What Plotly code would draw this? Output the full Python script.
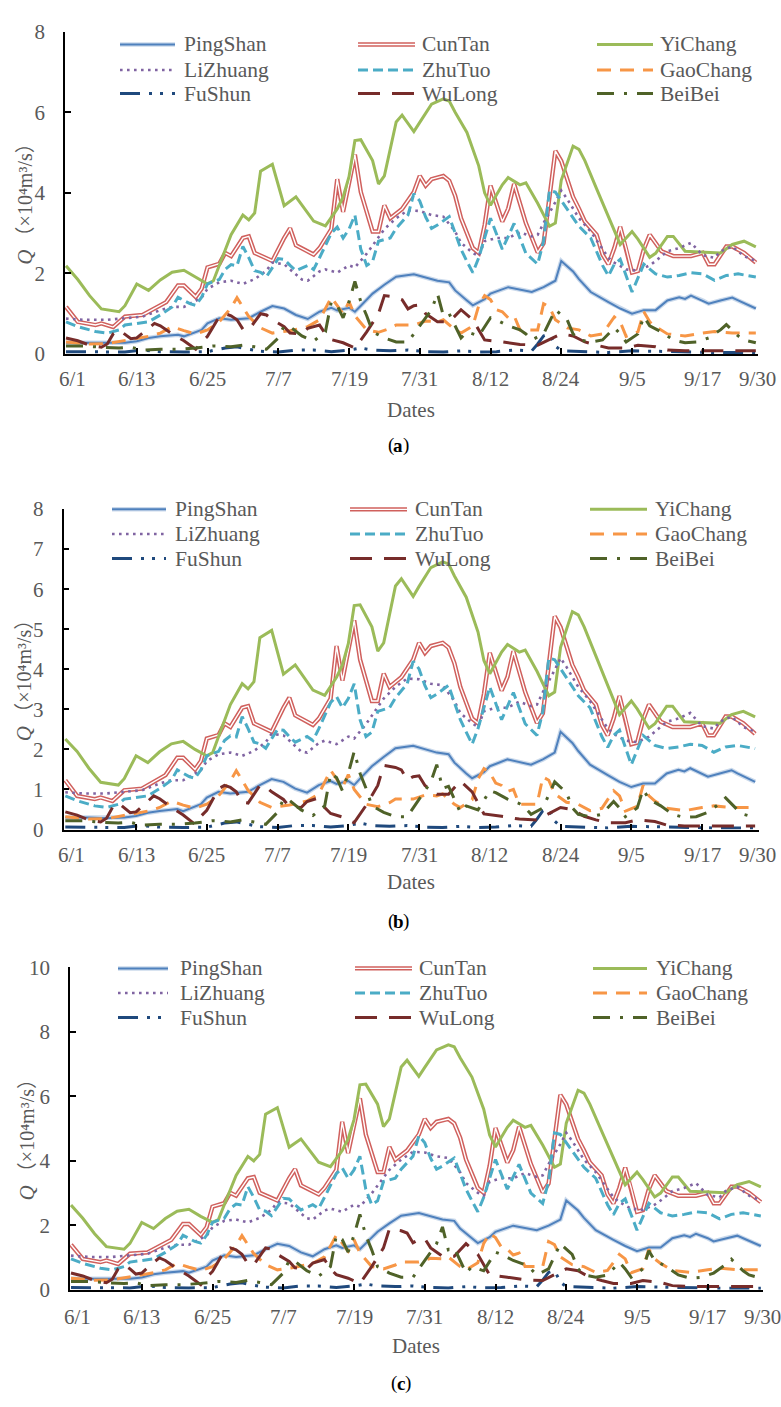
import plotly.graph_objects as go

W, H = 781, 1407
FONT = "Liberation Serif, Times New Roman, serif"
CJK_FONT = "Liberation Serif, Noto Sans CJK SC, serif"
GREY = "#595959"

# ---------------- categories / tick labels ----------------
TICK_DAYS = [0, 12, 24, 36, 48, 60, 72, 84, 96, 108, 117]
TICK_LABELS = ["6/1", "6/13", "6/25", "7/7", "7/19", "7/31", "8/12", "8/24", "9/5", "9/17", "9/30"]
SERIES = ["PingShan", "CunTan", "YiChang", "LiZhuang", "ZhuTuo",
          "GaoChang", "FuShun", "WuLong", "BeiBei"]

# ---------------- data: day offset from 6/1 and discharge (10^4 m3/s) ----------------
DAYS_PINGSHAN = [0,4,7,10,12,14,16,19,20,23,24,26,28,31,33,35,37,39,41,43,45,46,48,49,50,52,54,56,59,61,63,65,66,68,69,71,72,75,77,79,81,83,84,86,87,89,92,94,96,98,100,102,104,105,106,108,109,111,113,114,117]
A_PINGSHAN = [0.28,0.28,0.27,0.28,0.32,0.4,0.44,0.48,0.44,0.6,0.76,0.89,0.85,0.89,1.05,1.19,1.13,0.97,0.87,1.05,1.15,1.08,1.15,1.05,1.2,1.5,1.72,1.92,1.98,1.9,1.82,1.78,1.58,1.33,1.21,1.36,1.5,1.66,1.6,1.54,1.66,1.82,2.31,2.05,1.86,1.54,1.29,1.13,1.0,1.09,1.09,1.33,1.41,1.37,1.45,1.33,1.25,1.33,1.4,1.33,1.13]
B_PINGSHAN = [0.3,0.3,0.28,0.3,0.34,0.42,0.46,0.51,0.46,0.63,0.8,0.94,0.9,0.94,1.11,1.26,1.19,1.02,0.92,1.11,1.21,1.14,1.21,1.11,1.27,1.58,1.81,2.03,2.09,2.0,1.92,1.88,1.67,1.4,1.28,1.43,1.58,1.75,1.69,1.62,1.75,1.92,2.44,2.16,1.96,1.62,1.36,1.19,1.06,1.15,1.15,1.4,1.49,1.45,1.53,1.4,1.32,1.4,1.48,1.4,1.19]
C_PINGSHAN = [0.34,0.34,0.32,0.34,0.38,0.48,0.53,0.58,0.53,0.72,0.91,1.07,1.02,1.07,1.26,1.43,1.36,1.16,1.04,1.26,1.38,1.3,1.38,1.26,1.44,1.8,2.06,2.3,2.38,2.28,2.18,2.14,1.9,1.6,1.45,1.63,1.8,1.99,1.92,1.85,1.99,2.18,2.77,2.46,2.23,1.85,1.55,1.36,1.2,1.31,1.31,1.6,1.69,1.64,1.74,1.6,1.5,1.6,1.68,1.6,1.36]

DAYS_CUNTAN = [0,2,5,6,8,10,13,15,17,19,20,22,23,24,26,27,28,30,31,32,35,37,38,39,41,42,43,45,46,47,49,50,52,53,54,55,57,59,60,61,62,64,65,66,67,69,70,71,72,74,75,76,78,80,81,83,84,86,87,88,90,91,92,93,94,95,96,97,98,99,101,103,106,108,109,110,112,113,115,117]
A_CUNTAN = [1.17,0.8,0.72,0.76,0.67,0.93,0.97,1.13,1.29,1.7,1.7,1.42,1.62,2.15,2.24,2.51,2.43,2.88,2.92,2.51,2.31,2.88,3.12,2.7,2.55,2.47,2.63,3.1,4.34,3.53,4.95,4.02,3.04,3.04,3.69,3.37,3.6,4.02,4.42,4.18,4.34,4.42,4.3,3.93,3.37,2.63,2.51,3.2,4.18,3.29,3.61,4.22,3.25,2.52,2.75,5.04,4.79,3.9,3.61,3.29,2.96,2.47,2.23,2.63,3.16,2.63,2.02,2.06,2.6,2.96,2.55,2.43,2.43,2.51,2.23,2.23,2.67,2.67,2.51,2.27]
B_CUNTAN = [1.23,0.84,0.76,0.8,0.71,0.98,1.02,1.19,1.36,1.79,1.79,1.5,1.71,2.27,2.36,2.65,2.56,3.04,3.08,2.65,2.44,3.04,3.29,2.85,2.69,2.61,2.77,3.27,4.58,3.72,5.22,4.24,3.21,3.21,3.89,3.56,3.8,4.24,4.66,4.41,4.58,4.66,4.54,4.15,3.56,2.77,2.65,3.38,4.41,3.47,3.81,4.45,3.43,2.66,2.9,5.32,5.05,4.11,3.81,3.47,3.12,2.61,2.35,2.77,3.33,2.77,2.13,2.17,2.74,3.12,2.69,2.56,2.56,2.65,2.35,2.35,2.82,2.82,2.65,2.39]
C_CUNTAN = [1.4,0.96,0.86,0.91,0.8,1.12,1.16,1.36,1.55,2.04,2.04,1.7,1.94,2.58,2.69,3.01,2.92,3.46,3.5,3.01,2.77,3.46,3.74,3.24,3.06,2.96,3.16,3.72,5.21,4.24,5.94,4.82,3.65,3.65,4.43,4.04,4.32,4.82,5.3,5.02,5.21,5.3,5.16,4.72,4.04,3.16,3.01,3.84,5.02,3.95,4.33,5.06,3.9,3.02,3.3,6.05,5.75,4.68,4.33,3.95,3.55,2.96,2.68,3.16,3.79,3.16,2.42,2.47,3.12,3.55,3.06,2.92,2.92,3.01,2.68,2.68,3.2,3.2,3.01,2.72]

DAYS_YICHANG = [0,2,4,6,9,10,12,14,16,18,20,22,24,25,26,28,30,31,32,33,35,36,37,39,40,42,44,46,47,48,49,50,52,53,54,56,57,59,60,62,64,65,66,68,70,71,72,74,75,77,78,80,82,83,84,86,87,88,90,92,94,96,97,99,100,102,103,105,111,113,115,117]
A_YICHANG = [2.19,1.85,1.45,1.12,1.05,1.2,1.74,1.58,1.84,2.03,2.08,1.9,1.74,1.82,2.2,2.96,3.45,3.33,3.5,4.54,4.71,4.2,3.68,3.9,3.7,3.3,3.18,3.6,3.9,4.4,5.3,5.32,4.8,4.22,4.42,5.76,5.93,5.52,5.75,6.2,6.33,6.28,6.0,5.5,4.67,4.0,3.69,4.2,4.38,4.2,4.25,3.74,3.17,3.25,4.31,5.16,5.08,4.8,4.1,3.4,2.72,3.04,2.85,2.4,2.5,2.92,2.92,2.55,2.51,2.72,2.8,2.66]
B_YICHANG = [2.26,1.95,1.53,1.18,1.11,1.27,1.84,1.67,1.94,2.14,2.2,2.0,1.84,1.92,2.32,3.12,3.64,3.51,3.69,4.79,4.97,4.43,3.88,4.11,3.9,3.48,3.35,3.8,4.11,4.64,5.59,5.61,5.06,4.45,4.66,6.08,6.26,5.82,6.07,6.54,6.68,6.63,6.33,5.8,4.93,4.22,3.89,4.43,4.62,4.43,4.48,3.95,3.34,3.43,4.55,5.44,5.36,5.06,4.33,3.59,2.87,3.21,3.01,2.53,2.64,3.08,3.08,2.69,2.65,2.87,2.95,2.81]
C_YICHANG = [2.63,2.22,1.74,1.34,1.26,1.44,2.09,1.9,2.21,2.44,2.5,2.28,2.09,2.18,2.64,3.55,4.14,4.0,4.2,5.45,5.65,5.04,4.42,4.68,4.44,3.96,3.82,4.32,4.68,5.28,6.36,6.38,5.76,5.06,5.3,6.91,7.12,6.62,6.9,7.44,7.6,7.54,7.2,6.6,5.6,4.8,4.43,5.04,5.26,5.04,5.1,4.49,3.8,3.9,5.17,6.19,6.1,5.76,4.92,4.08,3.26,3.65,3.42,2.88,3.0,3.5,3.5,3.06,3.01,3.26,3.36,3.19]

DAYS_LIZHUANG = [0,3,7,10,13,16,18,20,23,24,26,28,30,32,34,35,37,38,40,41,43,44,46,48,49,51,53,54,56,58,60,62,64,66,67,69,70,71,73,75,77,79,80,81,83,84,85,87,89,91,92,93,95,97,99,100,102,104,106,108,110,111,113,115,117]
A_LIZHUANG = [0.88,0.85,0.85,0.89,0.93,1.09,1.17,1.17,1.4,1.62,1.78,1.82,1.74,1.86,2.07,2.27,2.23,2.1,1.85,1.82,2.05,2.1,2.02,2.2,2.15,2.49,2.88,3.1,3.37,3.57,3.55,3.45,3.41,3.04,2.76,2.51,2.43,2.8,2.88,2.88,3.02,2.92,2.96,3.25,3.77,4.06,3.85,3.37,3.04,2.6,2.39,2.27,2.1,2.07,2.2,2.31,2.55,2.63,2.76,2.45,2.39,2.55,2.67,2.43,2.31]
B_LIZHUANG = [0.93,0.9,0.9,0.94,0.98,1.15,1.23,1.23,1.48,1.71,1.88,1.92,1.84,1.96,2.18,2.39,2.35,2.22,1.95,1.92,2.16,2.22,2.13,2.32,2.27,2.63,3.04,3.27,3.56,3.77,3.75,3.64,3.6,3.21,2.91,2.65,2.56,2.95,3.04,3.04,3.19,3.08,3.12,3.43,3.98,4.28,4.06,3.56,3.21,2.74,2.52,2.39,2.22,2.18,2.32,2.44,2.69,2.77,2.91,2.58,2.52,2.69,2.82,2.56,2.44]
C_LIZHUANG = [1.06,1.02,1.02,1.07,1.12,1.31,1.4,1.4,1.68,1.94,2.14,2.18,2.09,2.23,2.48,2.72,2.68,2.52,2.22,2.18,2.46,2.52,2.42,2.64,2.58,2.99,3.46,3.72,4.04,4.28,4.26,4.14,4.09,3.65,3.31,3.01,2.92,3.36,3.46,3.46,3.62,3.5,3.55,3.9,4.52,4.87,4.62,4.04,3.65,3.12,2.87,2.72,2.52,2.48,2.64,2.77,3.06,3.16,3.31,2.94,2.87,3.06,3.2,2.92,2.77]

DAYS_ZHUTUO = [0,2,5,7,9,10,12,14,16,18,19,21,22,23,24,26,27,28,29,30,31,32,33,34,36,37,38,39,41,42,43,45,46,47,48,49,50,51,52,53,55,56,58,59,60,61,62,63,65,66,67,68,69,70,71,72,74,75,76,78,80,81,82,83,85,86,87,89,91,92,93,94,96,98,100,102,104,106,108,110,112,114,117]
A_ZHUTUO = [0.8,0.68,0.56,0.52,0.6,0.72,0.76,0.8,0.97,1.17,1.41,1.25,1.21,1.41,1.74,1.85,2.1,2.22,2.19,2.67,2.39,2.07,2.03,1.92,2.37,2.35,2.2,2.07,2.2,2.1,2.39,3.0,3.15,2.88,3.1,3.45,2.6,2.2,2.3,2.8,2.88,3.12,3.45,3.98,3.8,3.4,3.12,3.2,3.41,3.0,2.6,2.3,2.02,2.39,2.9,3.37,2.6,2.9,3.24,2.5,2.23,2.8,4.06,4.02,3.6,3.37,3.17,2.88,2.2,1.94,2.23,2.35,1.54,2.23,1.99,1.91,1.95,2.02,1.99,1.83,1.95,1.99,1.91]
B_ZHUTUO = [0.84,0.72,0.59,0.55,0.63,0.76,0.8,0.84,1.02,1.23,1.49,1.32,1.28,1.49,1.84,1.95,2.22,2.34,2.31,2.82,2.52,2.18,2.14,2.03,2.5,2.48,2.32,2.18,2.32,2.22,2.52,3.17,3.32,3.04,3.27,3.64,2.74,2.32,2.43,2.95,3.04,3.29,3.64,4.2,4.01,3.59,3.29,3.38,3.6,3.17,2.74,2.43,2.13,2.52,3.06,3.56,2.74,3.06,3.42,2.64,2.35,2.95,4.28,4.24,3.8,3.56,3.34,3.04,2.32,2.05,2.35,2.48,1.62,2.35,2.1,2.02,2.06,2.13,2.1,1.93,2.06,2.1,2.02]
C_ZHUTUO = [0.96,0.82,0.67,0.62,0.72,0.86,0.91,0.96,1.16,1.4,1.69,1.5,1.45,1.69,2.09,2.22,2.52,2.66,2.63,3.2,2.87,2.48,2.44,2.3,2.84,2.82,2.64,2.48,2.64,2.52,2.87,3.6,3.78,3.46,3.72,4.14,3.12,2.64,2.76,3.36,3.46,3.74,4.14,4.78,4.56,4.08,3.74,3.84,4.09,3.6,3.12,2.76,2.42,2.87,3.48,4.04,3.12,3.48,3.89,3.0,2.68,3.36,4.87,4.82,4.32,4.04,3.8,3.46,2.64,2.33,2.68,2.82,1.85,2.68,2.39,2.29,2.34,2.42,2.39,2.2,2.34,2.39,2.29]

DAYS_GAOCHANG = [0,2,4,7,10,12,14,16,18,20,22,24,26,28,29,31,33,35,38,41,43,45,46,47,48,49,51,53,55,56,59,61,63,64,66,67,69,70,71,72,73,74,75,76,77,80,81,82,83,85,87,89,91,93,94,95,97,98,99,100,102,105,108,110,113,117]
A_GAOCHANG = [0.3,0.28,0.25,0.26,0.33,0.38,0.44,0.52,0.68,0.58,0.5,0.6,0.8,1.15,1.4,0.93,0.65,0.52,0.58,0.68,0.85,1.41,1.2,1.0,1.3,0.95,0.6,0.54,0.64,0.72,0.72,0.82,0.8,0.85,0.6,0.52,0.7,1.2,1.45,1.35,1.1,1.05,0.9,0.95,0.6,0.6,1.25,1.17,0.85,0.65,0.6,0.45,0.5,0.92,0.8,0.44,0.55,1.05,0.8,0.68,0.5,0.45,0.52,0.56,0.52,0.52]
B_GAOCHANG = [0.32,0.29,0.26,0.27,0.35,0.4,0.46,0.55,0.71,0.61,0.53,0.63,0.84,1.21,1.47,0.98,0.68,0.55,0.61,0.71,0.89,1.48,1.26,1.05,1.37,1.0,0.63,0.57,0.67,0.76,0.76,0.86,0.84,0.89,0.63,0.55,0.74,1.26,1.52,1.42,1.16,1.1,0.95,1.0,0.63,0.63,1.31,1.23,0.89,0.68,0.63,0.47,0.53,0.97,0.84,0.46,0.58,1.1,0.84,0.71,0.53,0.47,0.55,0.59,0.55,0.55]
C_GAOCHANG = [0.36,0.34,0.3,0.31,0.4,0.46,0.53,0.62,0.82,0.7,0.6,0.72,0.96,1.38,1.68,1.12,0.78,0.62,0.7,0.82,1.02,1.69,1.44,1.2,1.56,1.14,0.72,0.65,0.77,0.86,0.86,0.98,0.96,1.02,0.72,0.62,0.84,1.44,1.74,1.62,1.32,1.26,1.08,1.14,0.72,0.72,1.5,1.4,1.02,0.78,0.72,0.54,0.6,1.1,0.96,0.53,0.66,1.26,0.96,0.82,0.6,0.54,0.62,0.67,0.62,0.62]

DAYS_FUSHUN = [0,5,10,13,16,20,24,27,29,31,33,36,39,42,45,48,50,52,55,58,61,64,67,70,73,76,79,80,81,82,83,84,88,92,96,100,104,110,117]
A_FUSHUN = [0.06,0.05,0.05,0.1,0.06,0.05,0.06,0.15,0.18,0.12,0.07,0.05,0.1,0.1,0.06,0.1,0.15,0.1,0.08,0.1,0.06,0.05,0.08,0.05,0.06,0.1,0.08,0.25,0.45,0.5,0.2,0.08,0.06,0.04,0.08,0.07,0.05,0.04,0.04]
B_FUSHUN = [0.06,0.05,0.05,0.1,0.06,0.05,0.06,0.16,0.19,0.13,0.07,0.05,0.1,0.1,0.06,0.1,0.16,0.1,0.08,0.1,0.06,0.05,0.08,0.05,0.06,0.1,0.08,0.26,0.47,0.52,0.21,0.08,0.06,0.04,0.08,0.07,0.05,0.04,0.04]
C_FUSHUN = [0.07,0.06,0.06,0.12,0.07,0.06,0.07,0.18,0.22,0.14,0.08,0.06,0.12,0.12,0.07,0.12,0.18,0.12,0.1,0.12,0.07,0.06,0.1,0.06,0.07,0.12,0.1,0.3,0.54,0.6,0.24,0.1,0.07,0.05,0.1,0.08,0.06,0.05,0.05]

DAYS_WULONG = [0,2,4,6,7,8,9,10,11,12,14,15,16,18,20,22,23,24,26,27,28,29,30,31,33,34,35,37,38,40,41,43,44,45,47,49,51,53,54,56,57,58,59,60,61,63,65,67,69,70,71,74,77,80,82,84,86,88,90,92,95,97,100,102,105,117]
A_WULONG = [0.4,0.33,0.22,0.17,0.25,0.5,0.6,0.5,0.38,0.4,0.65,0.76,0.7,0.5,0.33,0.12,0.3,0.44,0.93,1.0,0.95,0.85,0.62,0.6,1.0,0.97,0.85,0.68,0.52,0.5,0.64,0.72,0.5,0.36,0.28,0.15,0.55,1.0,1.45,1.41,1.35,1.12,1.2,1.22,1.0,0.8,0.8,1.1,0.85,0.6,0.35,0.3,0.24,0.22,0.35,0.5,0.45,0.3,0.22,0.15,0.15,0.22,0.18,0.1,0.08,0.08]
B_WULONG = [0.44,0.36,0.24,0.19,0.28,0.55,0.66,0.55,0.42,0.44,0.72,0.84,0.77,0.55,0.36,0.13,0.33,0.48,1.02,1.1,1.05,0.94,0.68,0.66,1.1,1.07,0.94,0.75,0.57,0.55,0.7,0.79,0.55,0.4,0.31,0.17,0.6,1.1,1.6,1.55,1.49,1.23,1.32,1.34,1.1,0.88,0.88,1.21,0.94,0.66,0.39,0.33,0.26,0.24,0.39,0.55,0.5,0.33,0.24,0.17,0.17,0.24,0.2,0.11,0.09,0.09]
C_WULONG = [0.52,0.43,0.29,0.22,0.33,0.65,0.78,0.65,0.49,0.52,0.85,0.99,0.91,0.65,0.43,0.16,0.39,0.57,1.21,1.3,1.24,1.1,0.81,0.78,1.3,1.26,1.1,0.88,0.68,0.65,0.83,0.94,0.65,0.47,0.36,0.2,0.72,1.3,1.89,1.83,1.76,1.46,1.56,1.59,1.3,1.04,1.04,1.43,1.1,0.78,0.46,0.39,0.31,0.29,0.46,0.65,0.59,0.39,0.29,0.2,0.2,0.29,0.23,0.13,0.1,0.1]

DAYS_BEIBEI = [0,3,6,9,11,13,16,19,22,25,28,30,32,34,36,37,38,40,42,44,45,46,47,48,49,50,51,52,54,56,58,60,62,63,64,65,66,67,68,70,72,73,75,77,78,79,81,82,83,85,86,87,89,91,93,94,95,97,98,99,101,103,105,107,109,111,112,114,115,117]
A_BEIBEI = [0.2,0.2,0.17,0.15,0.17,0.1,0.12,0.12,0.15,0.2,0.18,0.22,0.18,0.12,0.4,0.7,0.68,0.45,0.32,0.55,1.3,1.2,0.9,1.3,1.8,1.3,0.95,0.55,0.4,0.3,0.3,0.7,1.1,1.5,0.95,1.0,0.7,0.4,0.55,0.45,0.9,0.85,0.7,0.6,0.5,0.35,0.5,0.8,1.1,0.85,0.5,0.35,0.3,0.35,0.65,0.5,0.3,0.5,0.93,0.7,0.55,0.35,0.28,0.3,0.4,0.6,0.73,0.45,0.35,0.28]
B_BEIBEI = [0.22,0.22,0.18,0.16,0.18,0.11,0.13,0.13,0.16,0.22,0.19,0.24,0.19,0.13,0.43,0.76,0.73,0.49,0.35,0.59,1.4,1.3,0.97,1.4,1.95,1.4,1.03,0.59,0.43,0.32,0.32,0.76,1.19,1.62,1.03,1.08,0.76,0.43,0.59,0.49,0.97,0.92,0.76,0.65,0.54,0.38,0.54,0.86,1.19,0.92,0.54,0.38,0.32,0.38,0.7,0.54,0.32,0.54,1.0,0.76,0.59,0.38,0.3,0.32,0.43,0.65,0.79,0.49,0.38,0.3]
C_BEIBEI = [0.26,0.26,0.22,0.2,0.22,0.13,0.16,0.16,0.2,0.26,0.23,0.29,0.23,0.16,0.52,0.91,0.88,0.59,0.42,0.72,1.69,1.56,1.17,1.69,2.34,1.69,1.24,0.72,0.52,0.39,0.39,0.91,1.43,1.95,1.24,1.3,0.91,0.52,0.72,0.59,1.17,1.1,0.91,0.78,0.65,0.46,0.65,1.04,1.43,1.1,0.65,0.46,0.39,0.46,0.85,0.65,0.39,0.65,1.21,0.91,0.72,0.46,0.36,0.39,0.52,0.78,0.95,0.59,0.46,0.36]

DAYS = {"PingShan": DAYS_PINGSHAN, "CunTan": DAYS_CUNTAN, "YiChang": DAYS_YICHANG,
        "LiZhuang": DAYS_LIZHUANG, "ZhuTuo": DAYS_ZHUTUO, "GaoChang": DAYS_GAOCHANG,
        "FuShun": DAYS_FUSHUN, "WuLong": DAYS_WULONG, "BeiBei": DAYS_BEIBEI}
VALUES = {
    "a": {"PingShan": A_PINGSHAN, "CunTan": A_CUNTAN, "YiChang": A_YICHANG, "LiZhuang": A_LIZHUANG,
          "ZhuTuo": A_ZHUTUO, "GaoChang": A_GAOCHANG, "FuShun": A_FUSHUN, "WuLong": A_WULONG, "BeiBei": A_BEIBEI},
    "b": {"PingShan": B_PINGSHAN, "CunTan": B_CUNTAN, "YiChang": B_YICHANG, "LiZhuang": B_LIZHUANG,
          "ZhuTuo": B_ZHUTUO, "GaoChang": B_GAOCHANG, "FuShun": B_FUSHUN, "WuLong": B_WULONG, "BeiBei": B_BEIBEI},
    "c": {"PingShan": C_PINGSHAN, "CunTan": C_CUNTAN, "YiChang": C_YICHANG, "LiZhuang": C_LIZHUANG,
          "ZhuTuo": C_ZHUTUO, "GaoChang": C_GAOCHANG, "FuShun": C_FUSHUN, "WuLong": C_WULONG, "BeiBei": C_BEIBEI},
}

# ---------------- styles ----------------
STYLE = {
    "PingShan": dict(color="#4F81BD", width=2.0, dash="solid", halo="rgba(79,129,189,0.30)", halo_w=4.5),
    "CunTan":   dict(color="#D0605D", width=4.4, dash="solid", inner="#FFFFFF", inner_w=1.4),
    "YiChang":  dict(color="#9BBB59", width=3.0, dash="solid"),
    "LiZhuang": dict(color="#8064A2", width=2.6, dash="2.6px,4.4px"),
    "ZhuTuo":   dict(color="#4BACC6", width=3.0, dash="10px,5px"),
    "GaoChang": dict(color="#F79646", width=3.0, dash="14px,9px"),
    "FuShun":   dict(color="#1F497D", width=3.0, dash="20px,9px,3px,8px,3px,9px"),
    "WuLong":   dict(color="#772C2A", width=3.0, dash="22px,12px"),
    "BeiBei":   dict(color="#4F6228", width=3.0, dash="17px,10px,3px,10px"),
}

PX_PER_DAY = 5.896
PANELS = [
    dict(key="a", x0=65, x1=758, day0=66, ytop=20, ybot=348, ymax=8, dtick=2,
         lab_dy=25, dates_y=405, dates_x=411, tag_y=441, tag_x=398, ytitle_x=25,
         leg_rows=[33, 59, 83], leg_cols=[(120, 175, 182), (358, 415, 420), (597, 653, 658)]),
    dict(key="b", x0=63.5, x1=759, day0=65.3, ytop=505.7, ybot=831.7, ymax=8, dtick=1,
         lab_dy=26, dates_y=885, dates_x=411, tag_y=925, tag_x=398, ytitle_x=24,
         leg_rows=[506, 531, 556], leg_cols=[(112, 166, 173), (350, 407, 413), (590, 647, 653)]),
    dict(key="c", x0=70, x1=762.5, day0=71, ytop=972, ybot=1300, ymax=10, dtick=2,
         lab_dy=28, dates_y=1357, dates_x=416, tag_y=1395, tag_x=401, ytitle_x=27,
         leg_rows=[973, 998, 1023], leg_cols=[(118, 168, 178), (355, 412, 417), (593, 647, 654)]),
]


def px(x):
    return x / W


def py(y):
    return 1 - y / H


fig = go.Figure()
layout = dict(width=W, height=H, margin=dict(l=0, r=0, t=0, b=0),
              paper_bgcolor="white", plot_bgcolor="white", showlegend=False)
annotations = []
shapes = []

for i, P in enumerate(PANELS):
    xa = "x" if i == 0 else f"x{i + 1}"
    ya = "y" if i == 0 else f"y{i + 1}"
    vals = VALUES[P["key"]]
    for name in SERIES:
        st = STYLE[name]
        d = DAYS[name]
        v = vals[name]
        assert len(d) == len(v), (P["key"], name, len(d), len(v))
        if "halo" in st:
            fig.add_trace(go.Scatter(x=d, y=v, mode="lines", xaxis=xa, yaxis=ya, hoverinfo="skip",
                                     line=dict(color=st["halo"], width=st["halo_w"])))
        fig.add_trace(go.Scatter(x=d, y=v, mode="lines", name=name, xaxis=xa, yaxis=ya,
                                 line=dict(color=st["color"], width=st["width"], dash=st["dash"])))
        if "inner" in st:
            fig.add_trace(go.Scatter(x=d, y=v, mode="lines", xaxis=xa, yaxis=ya, hoverinfo="skip",
                                     line=dict(color=st["inner"], width=st["inner_w"])))

    rng = [(P["x0"] - P["day0"]) / PX_PER_DAY, (P["x1"] - P["day0"]) / PX_PER_DAY]
    xkey = "xaxis" if i == 0 else f"xaxis{i + 1}"
    ykey = "yaxis" if i == 0 else f"yaxis{i + 1}"
    layout[xkey] = dict(domain=[px(P["x0"]), px(P["x1"])], range=rng, anchor=ya,
                        showline=True, linecolor="black", linewidth=2,
                        ticks="inside", ticklen=6, tickwidth=1.5, tickcolor="black",
                        tickvals=TICK_DAYS[1:-1], showticklabels=False,
                        showgrid=False, zeroline=False, fixedrange=True)
    layout[ykey] = dict(domain=[py(P["ybot"]), py(P["ytop"])], range=[0, P["ymax"]], anchor=xa,
                        tickmode="linear", tick0=0, dtick=P["dtick"],
                        showline=True, linecolor="black", linewidth=1.5,
                        ticks="inside", ticklen=6, tickwidth=1.5, tickcolor="black",
                        tickfont=dict(family=FONT, size=21, color=GREY), ticklabelstandoff=14,
                        showgrid=False, zeroline=False, fixedrange=True)

    # date tick labels
    for k, (dd, lab) in enumerate(zip(TICK_DAYS, TICK_LABELS)):
        shift = 6 if k == 0 else (2 if k == len(TICK_DAYS) - 1 else 0)
        annotations.append(dict(x=dd, xref=xa, y=py(P["ybot"] + P["lab_dy"]), yref="paper",
                                text=lab, showarrow=False, xanchor="center", yanchor="middle",
                                xshift=shift, font=dict(family=FONT, size=21, color=GREY)))
    annotations.append(dict(x=px(P["dates_x"]), xref="paper", y=py(P["dates_y"]), yref="paper",
                            text="Dates", showarrow=False, xanchor="center", yanchor="middle",
                            font=dict(family=FONT, size=21, color=GREY)))
    # panel tag "(a)" with a bold letter
    annotations.append(dict(x=px(P["tag_x"] - 7), xref="paper", y=py(P["tag_y"]), yref="paper",
                            text="(", showarrow=False, xanchor="center", yanchor="middle",
                            font=dict(family=FONT, size=19, color="black")))
    annotations.append(dict(x=px(P["tag_x"]), xref="paper", y=py(P["tag_y"]), yref="paper",
                            text=P["key"], showarrow=False, xanchor="center", yanchor="middle",
                            font=dict(family=FONT, size=19, color="black", weight="bold")))
    annotations.append(dict(x=px(P["tag_x"] + 7.5), xref="paper", y=py(P["tag_y"]), yref="paper",
                            text=")", showarrow=False, xanchor="center", yanchor="middle",
                            font=dict(family=FONT, size=19, color="black")))
    # rotated y title: italic Q, then the unit
    yc = (P["ytop"] + P["ybot"]) / 2 + 4
    annotations.append(dict(x=px(P["ytitle_x"]), xref="paper", y=py(yc + 62), yref="paper",
                            text="Q", textangle=-90, showarrow=False, xanchor="center", yanchor="middle",
                            font=dict(family=FONT, size=21, color=GREY, style="italic")))
    annotations.append(dict(x=px(P["ytitle_x"]), xref="paper", y=py(yc + 53), yref="paper",
                            text="（×10⁴m³/s）", textangle=-90, showarrow=False,
                            xanchor="center", yanchor="bottom",
                            font=dict(family=CJK_FONT, size=20, color=GREY)))

    # legend (3 x 3 grid)
    for j, name in enumerate(SERIES):
        r, c = divmod(j, 3)
        lx0, lx1, tx = P["leg_cols"][c]
        yy = py(P["leg_rows"][r])
        st = STYLE[name]
        if "halo" in st:
            shapes.append(dict(type="line", xref="paper", yref="paper", x0=px(lx0), x1=px(lx1),
                               y0=yy, y1=yy, line=dict(color=st["halo"], width=st["halo_w"])))
        shapes.append(dict(type="line", xref="paper", yref="paper", x0=px(lx0), x1=px(lx1),
                           y0=yy, y1=yy, line=dict(color=st["color"], width=st["width"], dash=st["dash"])))
        if "inner" in st:
            shapes.append(dict(type="line", xref="paper", yref="paper", x0=px(lx0), x1=px(lx1),
                               y0=yy, y1=yy, line=dict(color=st["inner"], width=st["inner_w"])))
        annotations.append(dict(x=px(tx), xref="paper", y=yy, yref="paper", text=name,
                                showarrow=False, xanchor="left", yanchor="middle",
                                font=dict(family=FONT, size=21.5, color=GREY)))

layout["annotations"] = annotations
layout["shapes"] = shapes
fig.update_layout(**layout)
fig.write_html("out.html")
